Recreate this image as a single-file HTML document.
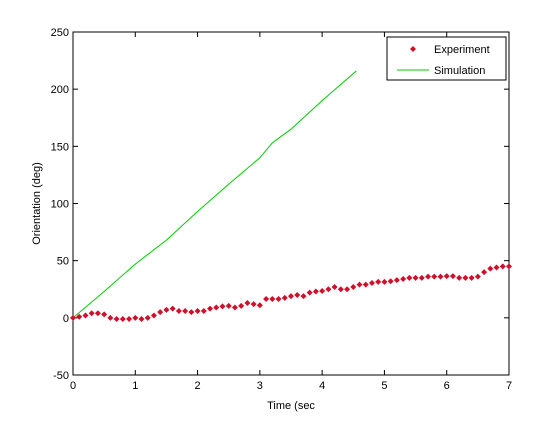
<!DOCTYPE html>
<html><head><meta charset="utf-8"><style>
body{margin:0;background:#fff;font-family:"Liberation Sans",sans-serif}
svg text{font-family:"Liberation Sans",sans-serif;font-size:11px}
</style></head><body>
<svg id="c" width="560" height="420"></svg>
<script>
const xTicks=[0,1,2,3,4,5,6,7];
const yTicks=[-50,0,50,100,150,200,250];
const expT=[];for(let i=0;i<=70;i++)expT.push(i/10);
const expV=[0,1,2,4,4,3,0,-1,-1,-1,0,-1,0,2,5,7,8,6,6,5,6,6,8,9,10,10.5,9,10.5,13,12,11,16.5,16.5,16.5,17.5,19,20,19,22,23,23.5,25,27,25,25,27,29,29,30.5,31.5,31.5,32,33,34,35,35,35,36,36,36,36.5,36.5,35,35,35,36,40,43,44,45,45];
const simT=[0,0.5,1,1.5,2,2.5,3,3.2,3.5,4,4.55];
const simV=[0,23,47,68,93,117,140,153,165,190,216];
const L=73,R=509,T=32,B=375;
const sx=v=>L+(v-0)/7*(R-L), sy=v=>B-(v+50)/300*(B-T);
const s=document.getElementById('c');const NS='http://www.w3.org/2000/svg';
function mk(t,a,p){const e=document.createElementNS(NS,t);for(const k in a)e.setAttribute(k,a[k]);(p||s).appendChild(e);return e;}
const ax=mk('rect',{x:L,y:T,width:R-L,height:B-T,fill:'#fff',stroke:'#000','stroke-width':1});


xTicks.forEach(v=>{const x=sx(v);
mk('line',{x1:x,y1:B,x2:x,y2:B-5,stroke:'#000'});mk('line',{x1:x,y1:T,x2:x,y2:T+5,stroke:'#000'});
const t=mk('text',{x:x,y:B+14,'text-anchor':'middle'});t.textContent=v;

});
yTicks.forEach(v=>{const y=sy(v);
mk('line',{x1:L,y1:y,x2:L+5,y2:y,stroke:'#000'});mk('line',{x1:R,y1:y,x2:R-5,y2:y,stroke:'#000'});
const t=mk('text',{x:L-4,y:y+4,'text-anchor':'end'});t.textContent=v;

});
const xt=mk('text',{x:(L+R)/2,y:409,'text-anchor':'middle'});xt.textContent='Time (sec';


const yt=mk('text',{x:0,y:0,'text-anchor':'middle',transform:`translate(40,${(T+B)/2}) rotate(-90)`});yt.textContent='Orientation (deg)';


const sim=mk('polyline',{points:simT.map((t,i)=>sx(t)+','+sy(simV[i])).join(' '),fill:'none',stroke:'#00cc00','stroke-width':1});


const g=mk('g',{fill:'#d0102a'});


function dia(x,y,p){return mk('polygon',{points:`${x},${y-3} ${x+3},${y} ${x},${y+3} ${x-3},${y}`},p);}
expT.forEach((t,i)=>{const d=dia(sx(t),sy(expV[i]),g);

});
const lg=mk('g',{});


mk('rect',{x:387,y:37,width:119,height:43,fill:'#fff',stroke:'#000'},lg);
const ld=dia(413,49,lg);ld.setAttribute('fill','#d0102a');
mk('line',{x1:397,y1:70,x2:429,y2:70,stroke:'#00cc00'},lg);
const l1=mk('text',{x:434,y:53},lg);l1.textContent='Experiment';


const l2=mk('text',{x:434,y:74},lg);l2.textContent='Simulation';


</script>
</body></html>
